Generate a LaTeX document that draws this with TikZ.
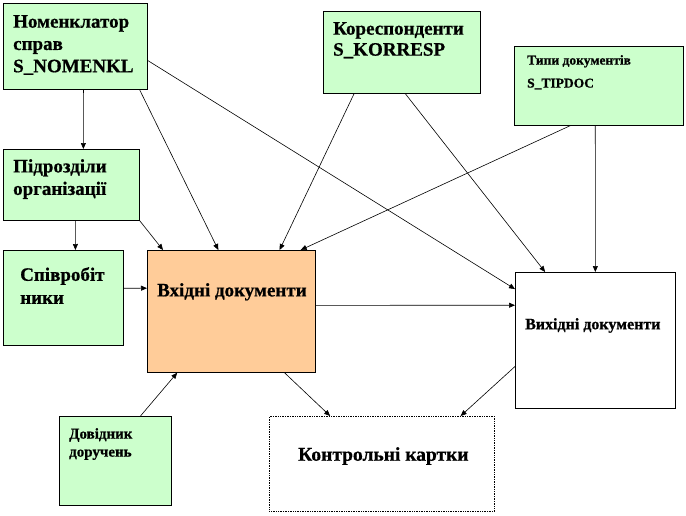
\documentclass[tikz,border=0pt]{standalone}
\usepackage{fontspec}
\setmainfont{Liberation Serif}
\newfontfamily\hv{Liberation Serif}[UprightFont={* Bold},FakeBold=0.7]
\usetikzlibrary{calc,arrows.meta}
\definecolor{boxgreen}{HTML}{CCFFCC}
\definecolor{boxorange}{HTML}{FFCC99}
\tikzset{
  box/.style={draw=black, line width=0.7pt, anchor=north west, inner sep=0pt, minimum width=#1},
  gbox/.style={box=#1, fill=boxgreen},
  txt/.style={anchor=north west, inner sep=0pt, align=left},
  conn/.style={draw=black, line width=0.6pt, -{Triangle[length=6pt,width=5pt]}},
}
\newcommand{\fs}[2]{\hv\fontsize{#1}{#2}\selectfont}
\begin{document}
\begin{tikzpicture}[x=1pt,y=-1pt]
\useasboundingbox (0,0) rectangle (686,515);
% boxes
\node[gbox=144pt, minimum height=86pt] (nom) at (3,3) {};
\node[gbox=136pt, minimum height=71pt] (pod) at (3,149) {};
\node[gbox=120pt, minimum height=95pt] (spiv) at (3,250) {};
\node[box=168pt, minimum height=122pt, fill=boxorange] (vkh) at (147,250) {};
\node[gbox=112pt, minimum height=89pt] (dov) at (59,416) {};
\node[box=225pt, minimum height=95pt, densely dotted] (kon) at (269,416) {};
\node[box=160pt, minimum height=136pt] (vyh) at (515,272) {};
\node[gbox=157pt, minimum height=82pt] (kor) at (323,11) {};
\node[gbox=169pt, minimum height=79pt] (tip) at (514,46) {};
% texts
\node[txt, font=\fs{19}{22.3}] (nomT) at (13,15) {Номенклатор\\справ\\S\_NOMENKL};
\node[txt, font=\fs{19}{22.5}] (podT) at (13,159) {Підрозділи\\організації};
\node[txt, font=\fs{19}{23}] (spivT) at (20,267) {Співробіт\\ники};
\node[txt, font=\fs{19}{22}] (vkhT) at (157,283) {Вхідні документи};
\node[txt, font=\fs{19}{21}] (korT) at (333,22) {Кореспонденти\\S\_KORRESP};
\node[txt, font=\fs{13.5}{23}] (tipT) at (527,55) {Типи документів\\S\_TIPDOC};
\node[txt, font=\fs{15}{18}] (dovT) at (69,428) {Довідник\\доручень};
\node[txt, font=\fs{16}{18}] (vyhT) at (525,318) {Вихідні документи};
\node[txt, font=\fs{19.5}{22}] (konT) at (298,447) {Контрольні картки};
% connectors
\draw[conn] ($(nom.south west)!0.556!(nom.south east)$) -- ($(pod.north west)!0.588!(pod.north east)$);
\draw[conn] ($(pod.south west)!0.529!(pod.south east)$) -- ($(spiv.north west)!0.6!(spiv.north east)$);
\draw[conn] ($(nom.south west)!0.944!(nom.south east)$) -- ($(vkh.north west)!0.423!(vkh.north east)$);
\draw[conn] ($(nom.north east)!0.663!(nom.south east)$) -- ($(vyh.north west)!0.125!(vyh.south west)$);
\draw[conn] (pod.south east) -- ($(vkh.north west)!0.095!(vkh.north east)$);
\draw[conn] ($(kor.south west)!0.197!(kor.south east)$) -- ($(vkh.north west)!0.786!(vkh.north east)$);
\draw[conn] ($(kor.south west)!0.522!(kor.south east)$) -- ($(vyh.north west)!0.1875!(vyh.north east)$);
\draw[conn] ($(tip.south west)!0.331!(tip.south east)$) -- ($(vkh.north west)!0.911!(vkh.north east)$);
\draw[conn] ($(tip.south west)!0.479!(tip.south east)$) -- ($(vyh.north west)!0.5!(vyh.north east)$);
\draw[conn] ($(spiv.north east)!0.4!(spiv.south east)$) -- ($(vkh.north west)!0.311!(vkh.south west)$);
\draw[conn] ($(vkh.north east)!0.451!(vkh.south east)$) -- ($(vyh.north west)!0.243!(vyh.south west)$);
\draw[conn] ($(dov.north west)!0.723!(dov.north east)$) -- ($(vkh.south west)!0.179!(vkh.south east)$);
\draw[conn] ($(vkh.south west)!0.815!(vkh.south east)$) -- ($(kon.north west)!0.271!(kon.north east)$);
\draw[conn] ($(vyh.north west)!0.691!(vyh.south west)$) -- ($(kon.north west)!0.849!(kon.north east)$);
\end{tikzpicture}
\end{document}
